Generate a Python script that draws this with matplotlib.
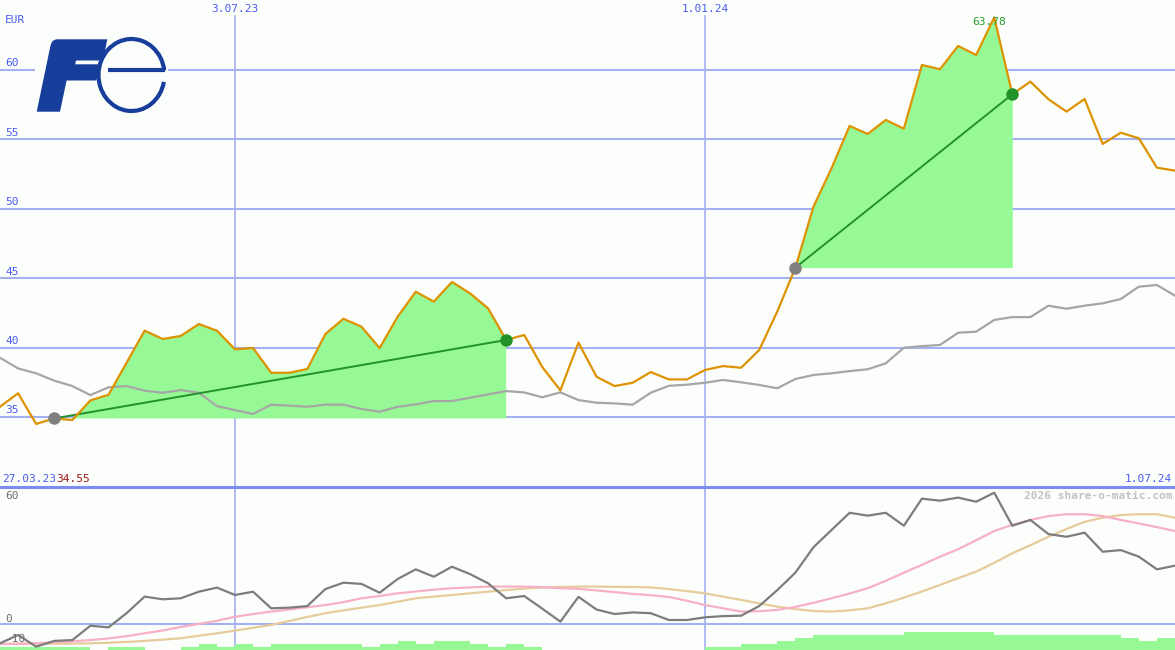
import matplotlib
matplotlib.use("Agg")
import matplotlib.pyplot as plt
from matplotlib.patches import Polygon, Arc, Rectangle
import numpy as np

# weekly closes, 3.04.23 .. 1.07.24 (EUR)
price = [35.74, 36.71, 34.50, 34.90, 34.78, 36.20, 36.60, 38.90, 41.22, 40.62,
         40.84, 41.70, 41.22, 39.88, 39.97, 38.19, 38.19, 38.46, 40.98, 42.08,
         41.50, 39.97, 42.23, 44.03, 43.31, 44.73, 43.91, 42.83, 40.55, 40.91,
         38.60, 36.92, 40.36, 37.90, 37.23, 37.47, 38.24, 37.71, 37.71, 38.39,
         38.67, 38.55, 39.83, 42.60, 45.76, 50.15, 52.92, 55.97, 55.39, 56.40,
         55.77, 60.36, 60.05, 61.73, 61.08, 63.78, 58.25, 59.16, 57.89, 57.00,
         57.91, 54.67, 55.48, 55.08, 52.96, 52.75]
# moving average (grey)
avg = [39.27, 38.50, 38.15, 37.62, 37.23, 36.58, 37.14, 37.23, 36.90, 36.75,
       36.94, 36.75, 35.79, 35.50, 35.22, 35.89, 35.82, 35.74, 35.89, 35.89,
       35.58, 35.38, 35.74, 35.91, 36.15, 36.15, 36.39, 36.63, 36.87, 36.77,
       36.42, 36.78, 36.22, 36.03, 35.98, 35.89, 36.75, 37.25, 37.33, 37.47,
       37.67, 37.50, 37.31, 37.07, 37.74, 38.03, 38.15, 38.31, 38.44, 38.87,
       39.99, 40.11, 40.19, 41.07, 41.15, 41.99, 42.20, 42.20, 43.02, 42.80,
       43.02, 43.19, 43.50, 44.39, 44.51, 43.74]
# lower panel indicator lines
osc = [-9.3, -5.2, -10.9, -8.1, -7.7, -0.7, -1.5, 5.4, 13.5, 12.2,
       12.7, 15.9, 17.9, 14.3, 15.9, 7.8, 8.1, 8.9, 17.2, 20.3,
       19.7, 15.4, 22.1, 26.8, 23.2, 28.1, 24.5, 20.0, 12.7, 13.8,
       7.6, 1.3, 13.4, 7.2, 5.0, 5.8, 5.4, 2.1, 2.1, 3.4,
       4.0, 4.2, 8.9, 16.7, 25.2, 37.6, 46.0, 54.4, 53.0, 54.4,
       48.1, 61.3, 60.3, 61.8, 59.8, 64.2, 48.1, 50.9, 44.0, 42.7,
       44.7, 35.4, 36.2, 33.0, 26.8, 28.6]
osc_fast = [-9.6, -9.4, -9.2, -8.8, -8.3, -7.7, -6.9, -5.8, -4.4, -3.0,
            -1.3, 0.2, 1.7, 3.7, 5.0, 6.2, 7.2, 8.3, 9.4, 10.8,
            12.7, 13.8, 15.1, 16.0, 16.9, 17.6, 18.0, 18.4, 18.4, 18.4,
            18.1, 17.6, 17.3, 16.5, 15.7, 14.8, 14.2, 13.3, 11.5, 9.4,
            7.8, 6.2, 6.4, 7.0, 8.5, 10.5, 12.7, 15.0, 17.6, 21.2,
            25.2, 29.0, 33.0, 36.6, 41.0, 45.5, 48.5, 50.9, 52.8, 53.7,
            53.7, 52.8, 50.9, 49.2, 47.4, 45.5]
osc_slow = [-9.6, -9.6, -9.5, -9.5, -9.4, -9.3, -9.0, -8.6, -8.1, -7.5,
            -6.8, -5.6, -4.4, -3.1, -1.7, -0.3, 1.6, 3.6, 5.4, 6.8,
            8.1, 9.4, 11.0, 12.7, 13.5, 14.3, 15.1, 15.9, 16.7, 17.4,
            18.0, 18.2, 18.4, 18.4, 18.3, 18.2, 18.0, 17.2, 16.2, 15.1,
            13.5, 11.9, 10.2, 8.6, 7.4, 6.5, 6.2, 6.8, 7.8, 10.2,
            13.0, 16.0, 19.2, 22.5, 25.7, 30.0, 34.6, 38.6, 42.7, 46.5,
            50.0, 52.0, 53.3, 53.7, 53.7, 52.0]
signal_bars = [1, 1, 1, 1, 1, 0, 1, 1, 0, 0, 1, 2, 1, 2, 1, 2, 2, 2, 2, 2,
               1, 2, 3, 2, 3, 3, 2, 1, 2, 1, 0, 0, 0, 0, 0, 0, 0, 0, 0, 1,
               1, 2, 2, 3, 4, 5, 5, 5, 5, 5, 6, 6, 6, 6, 6, 5, 5, 5, 5, 5,
               5, 5, 4, 3, 4]

buy_idx = [3, 44]
sell_idx = [28, 56]
date_ticks = [13, 39]
date_labels = ["3.07.23", "1.01.24"]
end_label = "1.07.24"
start_label = "27.03.23"
start_value = "34.55"
price_grid = [35, 40, 45, 50, 55, 60]
osc_labels = [60, 0, -10]

W, H = 1175, 650
bg = "#fcfefc"
blue_txt = "#4a5cf0"
grid_c = "#a3b1f0"
mono = "DejaVu Sans Mono"
fs = 8

fig = plt.figure(figsize=(W / 100, H / 100), dpi=100, facecolor=bg)
x = np.arange(len(price))
n = len(price) - 1

# --- main price panel ---
ax = fig.add_axes([0, 163 / H, 1, 487 / H], facecolor=bg)
ax.set_xlim(0, n)
ax.set_ylim(29.96, 65.04)
ax.axis("off")
for v in price_grid:
    ax.axhline(v, color=grid_c, lw=1.5, zorder=1)
    ax.text(5 / W, v + 0.12, str(v), transform=ax.get_yaxis_transform(),
            color=blue_txt, fontsize=fs, family=mono, va="bottom", ha="left")
for t in date_ticks:
    ax.axvline(t, ymax=(487 - 16) / 487, color=grid_c, lw=1.2, zorder=1)

p = np.array(price)
for b, s in zip(buy_idx, sell_idx):
    seg = x[b:s + 1]
    base = p[b]
    ax.fill_between(seg, p[b:s + 1], base, where=p[b:s + 1] >= base,
                    interpolate=True, color="#96f996", lw=0, zorder=2)
ax.plot(x, avg, color="#a6a6a6", lw=1.6, zorder=3)
for b, s in zip(buy_idx, sell_idx):
    ax.plot([b, s], [p[b], p[s]], color="#22922a", lw=1.4, zorder=4)
ax.plot(x, price, color="#de9200", lw=1.6, zorder=5)
ax.plot(buy_idx, p[buy_idx], "o", color="#7f7f7f", ms=9, mec="none", zorder=6)
ax.plot(sell_idx, p[sell_idx], "o", color="#22922a", ms=9, mec="none", zorder=6)

peak = int(np.argmax(p))
ax.annotate(f"{p[peak]:.2f}", (peak, p[peak]), xytext=(-4, -3),
            textcoords="offset points", ha="center", va="center",
            color="#2e9c2e", fontsize=fs, family=mono, zorder=7)
ax.text(5 / W, 1 - 20 / 487, "EUR", transform=ax.transAxes, color=blue_txt,
        fontsize=fs, family=mono, va="center", ha="left")
for t, lab in zip(date_ticks, date_labels):
    ax.text(t, 1 - 9 / 487, lab, transform=ax.get_xaxis_transform(),
            color=blue_txt, fontsize=fs, family=mono, va="center", ha="center")

# --- lower indicator panel ---
ax2 = fig.add_axes([0, 0, 1, 163 / H], facecolor=bg)
ax2.set_xlim(0, n)
ax2.set_ylim(-12.54, 66.98)
ax2.axis("off")
ax2.axhline(0, color=grid_c, lw=1.5, zorder=1)
for t in date_ticks:
    ax2.axvline(t, color=grid_c, lw=1.2, zorder=1)
bar_unit = 1.5
ax2.bar(np.arange(len(signal_bars)), np.array(signal_bars) * bar_unit,
        bottom=-12.54, width=1.0, align="edge", color="#96f996", lw=0, zorder=2)
ax2.plot(x, osc_slow, color="#e6cc9c", lw=1.6, zorder=3)
ax2.plot(x, osc_fast, color="#f7b0c6", lw=1.6, zorder=3)
ax2.plot(x, osc, color="#7d7d7d", lw=1.6, zorder=4)
for v in osc_labels:
    ax2.text(5 / W, v + 0.3, str(v), transform=ax2.get_yaxis_transform(),
             color="#6e6e6e", fontsize=fs, family=mono, va="bottom", ha="left",
             zorder=5)
ax2.text(1 - 3 / W, 1 - 9 / 163, "2026 share-o-matic.com", transform=ax2.transAxes,
         color="#c2c2c2", fontsize=fs, family=mono, weight="bold",
         va="center", ha="right")

# --- overlay: separator, corner labels, logo ---
ov = fig.add_axes([0, 0, 1, 1], facecolor="none")
ov.set_xlim(0, W)
ov.set_ylim(H, 0)
ov.axis("off")
ov.axhline(487, color="#7b8cf2", lw=2.2)
ov.text(2, 479, start_label, color=blue_txt, fontsize=fs, family=mono,
        va="center", ha="left")
ov.text(56, 479, start_value, color="#a01818", fontsize=fs, family=mono,
        va="center", ha="left")
ov.text(W - 3, 479, end_label, color=blue_txt, fontsize=fs, family=mono,
        va="center", ha="right")

logo = "#173e9b"
ov.add_patch(Rectangle((35, 34), 133, 82, color=bg, lw=0))
F_shape = [(36.7, 111.7), (50.6, 45.0), (52.5, 41.0), (56.0, 39.3),
           (107.3, 39.3), (103.0, 60.5), (76.0, 60.5), (75.2, 64.3),
           (99.8, 64.3), (96.4, 80.5), (66.6, 80.5), (60.0, 111.7)]
ov.add_patch(Polygon(F_shape, closed=True, color=logo, lw=0))
ov.add_patch(Arc((131.5, 75.0), 66, 72, theta1=12, theta2=352,
                 color=logo, lw=3.0))
ov.plot([108, 164.5], [70, 70], color=logo, lw=3.0, solid_capstyle="butt")

fig.savefig("out.png", dpi=100, facecolor=bg)
